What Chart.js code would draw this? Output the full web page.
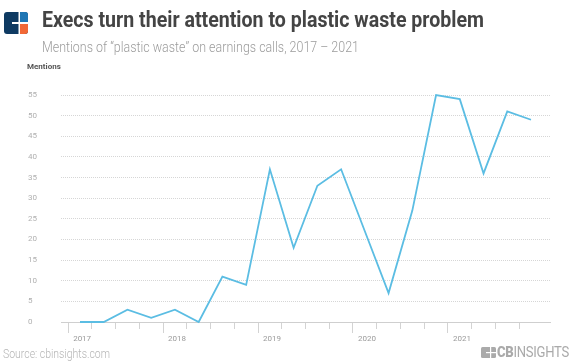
<!DOCTYPE html>
<html>
<head>
<meta charset="utf-8">
<script src="https://cdn.jsdelivr.net/npm/chart.js"></script>
<style>
    body { margin: 0; background: #fff; width: 572px; height: 364px; overflow: hidden; position: relative; font-family: Roboto, "Noto Sans", sans-serif; }
    #wrap { position: absolute; left: 0; top: 0; width: 572px; height: 364px; }
    .txt { position: absolute; white-space: nowrap; transform-origin: 0 0; }
    #title { left: 42px; top: 7px; font-size: 22px; font-weight: 700; color: #444; }
    #subtitle { left: 42px; top: 38px; font-size: 15px; font-weight: 300; color: #9c9c9c; }
    #yTitle { left: 27px; top: 62px; font-size: 8px; font-weight: 700; color: #555; }
    #source { left: 3px; top: 347px; font-size: 12px; font-weight: 300; color: #b5b5b5; }
    #brand { left: 497px; top: 344px; font-size: 14px; color: #aaa; letter-spacing: -0.3px; }
</style>
</head>
<body>
<div id="wrap"><canvas id="chart" width="572" height="364"></canvas></div>

<svg style="position:absolute;left:4px;top:12px" width="24" height="22" viewBox="0 0 24 22">
    <rect x="0" y="0" width="24" height="22" rx="3" fill="#0e3a62"/>
    <path d="M16 0 H21 A3 3 0 0 1 24 3 V10 H16 Z" fill="#1f76b4"/>
    <path d="M16 12 H24 V19 A3 3 0 0 1 21 22 H16 Z" fill="#f26836"/>
    <rect x="14.5" y="0" width="1.5" height="22" fill="#fff"/>
    <rect x="8" y="10" width="16" height="2" fill="#fff"/>
</svg>
<div class="txt" id="title">Execs turn their attention to plastic waste problem</div>
<div class="txt" id="subtitle">Mentions of “plastic waste” on earnings calls, 2017 – 2021</div>
<div class="txt" id="yTitle">Mentions</div>
<div class="txt" id="source">Source: cbinsights.com</div>

<svg style="position:absolute;left:481px;top:347px" width="15" height="11" viewBox="0 0 15 11">
    <rect x="0" y="0" width="15" height="11" rx="1.5" fill="#aaa"/>
    <rect x="9" y="0" width="1.2" height="11" fill="#fff"/>
    <rect x="5" y="5" width="10" height="1.2" fill="#fff"/>
</svg>
<div class="txt" id="brand"><b style="font-weight:900">CB</b>INSIGHTS</div>

<script>
const quarters = ['2017 Q1', '2017 Q2', '2017 Q3', '2017 Q4',
                  '2018 Q1', '2018 Q2', '2018 Q3', '2018 Q4',
                  '2019 Q1', '2019 Q2', '2019 Q3', '2019 Q4',
                  '2020 Q1', '2020 Q2', '2020 Q3', '2020 Q4',
                  '2021 Q1', '2021 Q2', '2021 Q3', '2021 Q4'];
const mentions = [0, 0, 3, 1, 3, 0, 11, 9, 37, 18, 33, 37, 22, 7, 27, 55, 54, 36, 51, 49];
const yearLabels = ['2017', '2018', '2019', '2020', '2021'];
const yTicks = [0, 5, 10, 15, 20, 25, 30, 35, 40, 45, 50, 55];

// squeeze the condensed-looking headings to the width of the original
function fitWidth(id, target) {
    const el = document.getElementById(id);
    const w = el.getBoundingClientRect().width;
    el.style.transform = 'scaleX(' + (target / w) + ')';
}
fitWidth('title', 442);
fitWidth('subtitle', 317);
fitWidth('source', 107);
fitWidth('brand', 72);

const points = mentions.map((v, i) => ({ x: i, y: v }));

const ctx = document.getElementById('chart').getContext('2d');
new Chart(ctx, {
    type: 'line',
    data: {
        datasets: [{
            label: 'Mentions',
            data: points,
            borderColor: '#5bbde3',
            borderWidth: 1.8,
            pointRadius: 0,
            tension: 0,
            clip: false
        }]
    },
    options: {
        responsive: false,
        animation: false,
        layout: { padding: { left: 28, right: 22, top: 95, bottom: 0 } },
        plugins: { legend: { display: false }, tooltip: { enabled: false } },
        scales: {
            x: {
                type: 'linear',
                min: -0.8,
                max: 19.8,
                // one tick at the start of each quarter
                afterBuildTicks: scale => {
                    scale.ticks = quarters.map((q, i) => ({ value: i - 0.5 }));
                },
                afterFit: scale => { scale.height = 42; },
                border: { display: true, color: '#cfcfcf', width: 1 },
                grid: {
                    drawOnChartArea: false,
                    tickLength: 11,
                    tickColor: '#d3d3d3',
                    tickWidth: 1,
                    tickBorderDash: c => (c.index % 4 === 0 ? [] : [6, 20])
                },
                ticks: {
                    autoSkip: false,
                    maxRotation: 0,
                    padding: 1,
                    labelOffset: 14,
                    color: '#9a9a9a',
                    font: { family: 'Roboto', size: 8 },
                    callback: (v, i) => (i % 4 === 0 ? yearLabels[i / 4] : '')
                }
            },
            y: {
                min: 0,
                max: 55,
                afterBuildTicks: scale => { scale.ticks = yTicks.map(v => ({ value: v })); },
                afterFit: scale => { scale.width = 33; },
                border: { display: false, dash: [1, 1] },
                grid: {
                    color: c => (c.tick.value === 0 ? 'rgba(0,0,0,0)' : '#d6d6d6'),
                    lineWidth: 1,
                    drawTicks: false
                },
                ticks: {
                    crossAlign: 'far',
                    padding: 0,
                    color: '#b0b0b0',
                    font: { family: 'Roboto', size: 8 }
                }
            }
        }
    }
});
</script>
</body>
</html>
